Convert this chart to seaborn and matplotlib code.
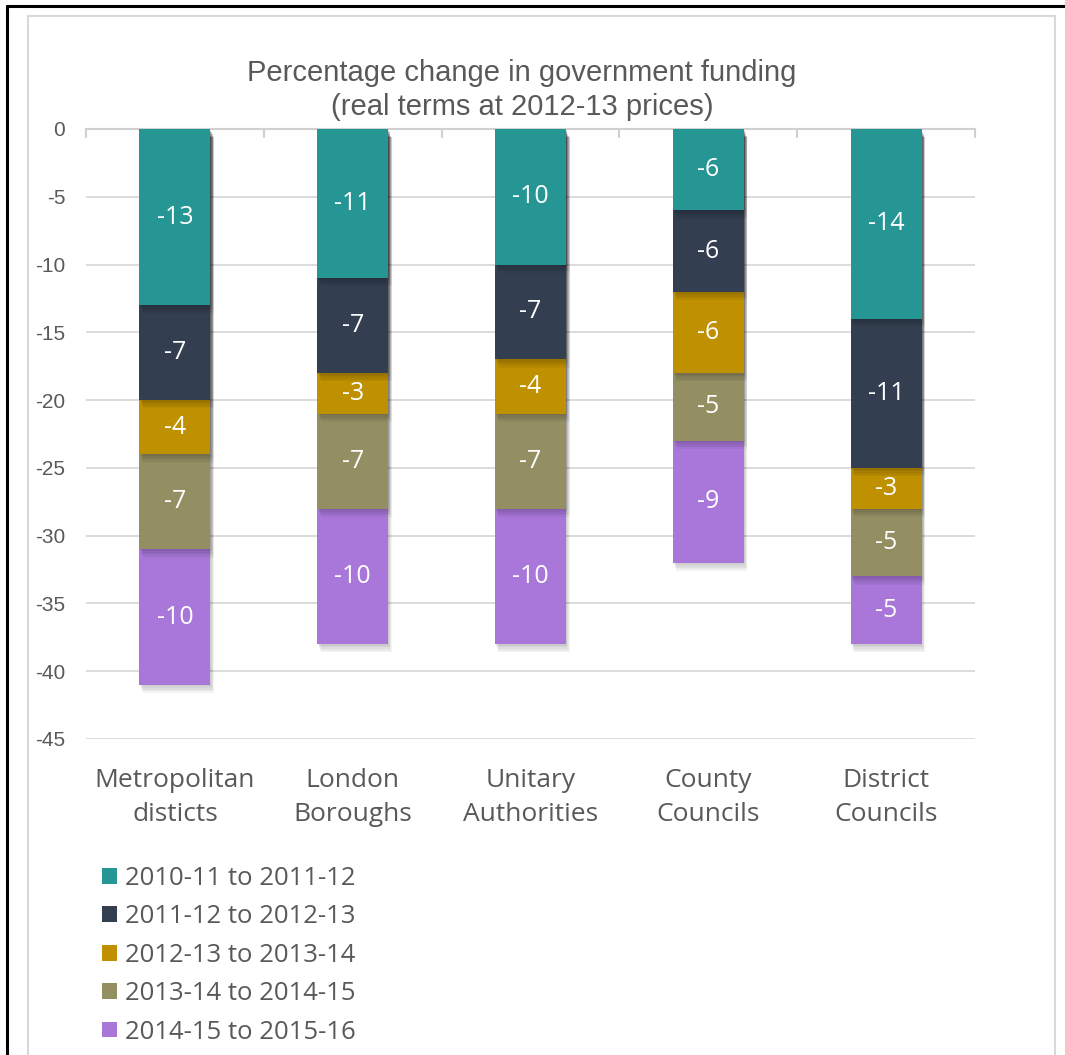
import numpy as np
import pandas as pd
import matplotlib.pyplot as plt
import matplotlib.patheffects as pe
from matplotlib.patches import Patch, Rectangle
from matplotlib.lines import Line2D
import seaborn as sns

sns.set_theme(style="white")
plt.rcParams["axes.unicode_minus"] = False

categories = ["Metropolitan\ndisticts", "London\nBoroughs", "Unitary\nAuthorities",
              "County\nCouncils", "District\nCouncils"]
periods = ["2010-11 to 2011-12", "2011-12 to 2012-13", "2012-13 to 2013-14",
           "2013-14 to 2014-15", "2014-15 to 2015-16"]
p1 = [-13, -11, -10, -6, -14]
p2 = [-7, -7, -7, -6, -11]
p3 = [-4, -3, -4, -6, -3]
p4 = [-7, -7, -7, -5, -5]
p5 = [-10, -10, -10, -9, -5]
colors = ["#259694", "#333f50", "#bf9000", "#948f63", "#a877d9"]

df = pd.DataFrame({"cat": categories})
layers = [p1, p2, p3, p4, p5]
cum = np.cumsum(np.array(layers), axis=0)
for name, c in zip(periods, cum):
    df[name] = c

fig = plt.figure(figsize=(10.65, 10.55), dpi=100)
ax = fig.add_axes([86 / 1065, 1 - 739 / 1055, 889 / 1065, 610 / 1055])

# outer frame and inner chart border
fig.add_artist(Line2D([7 / 1065, 7 / 1065], [0, 1 - 6 / 1055], color="black", lw=2.2))
fig.add_artist(Line2D([7 / 1065, 1], [1 - 6 / 1055, 1 - 6 / 1055], color="black", lw=2.2))
fig.add_artist(Rectangle((28 / 1065, -0.05), 1027 / 1065, 1.05 - 16 / 1055,
                         transform=fig.transFigure, fill=False, ec="#d9d9d9", lw=1.5))

grey = "#595959"
# soft, blurred-looking shadow built from a few faint layers
shadow = [pe.SimplePatchShadow(offset=(0.5 * o, -1.2 * o), shadow_rgbFace="black", alpha=0.045)
          for o in (1, 2, 3, 4, 5)] + [pe.Normal()]

# draw cumulative layers from the deepest up so they stack visually
for i in range(len(periods) - 1, -1, -1):
    sns.barplot(data=df, x="cat", y=periods[i], color=colors[i], width=0.4,
                saturation=1, ax=ax, zorder=3)
for p in ax.patches:
    p.set_path_effects(shadow)
    p.set_linewidth(0)

for i, vals in enumerate(layers):
    for j, v in enumerate(vals):
        mid = cum[i][j] - v / 2
        ax.text(j, mid, f"{v}", ha="center", va="center", color="white",
                fontsize=18, family="Open Sans", zorder=5)

ax.set_ylim(-45, 0)
ax.set_xlim(-0.5, 4.5)
ax.set_yticks(np.arange(0, -46, -5))
ax.yaxis.grid(True, color="#d9d9d9", lw=1.3, zorder=0)
ax.set_axisbelow(True)
for s in ["left", "right", "bottom"]:
    ax.spines[s].set_visible(False)
ax.spines["top"].set_color("#d0d0d0")
ax.spines["top"].set_linewidth(1.5)
ax.set_xlabel("")
ax.set_ylabel("")
ax.tick_params(axis="y", length=0, pad=15, labelcolor=grey)
for t in ax.get_yticklabels():
    t.set_family("Liberation Sans")
    t.set_fontsize(15)
ax.tick_params(axis="x", length=0, pad=21, labelcolor=grey)
for t in ax.get_xticklabels():
    t.set_family("Open Sans")
    t.set_fontsize(19)
    t.set_linespacing(1.45)

# category boundary ticks hanging from the zero line
for b in np.arange(-0.5, 5, 1):
    ax.plot([b, b], [0, -0.6], color="#d0d0d0", lw=1.5, zorder=1, clip_on=False)

fig.text(522 / 1065, 1 - 73 / 1055, "Percentage change in government funding",
         ha="center", va="center", fontsize=21, color=grey, family="Liberation Sans")
fig.text(522 / 1065, 1 - 107 / 1055, "(real terms at 2012-13 prices)",
         ha="center", va="center", fontsize=21, color=grey, family="Liberation Sans")

handles = [Patch(facecolor=c, edgecolor="none") for c in colors]
leg = fig.legend(handles, periods, loc="upper left", bbox_to_anchor=(79 / 1065, 1 - 843 / 1055),
                 frameon=False, handlelength=0.58, handleheight=0.58, handletextpad=0.3,
                 labelspacing=0.52, prop={"family": "Open Sans", "size": 18.5})
for t in leg.get_texts():
    t.set_color(grey)

fig.savefig("out.png", dpi=100)
